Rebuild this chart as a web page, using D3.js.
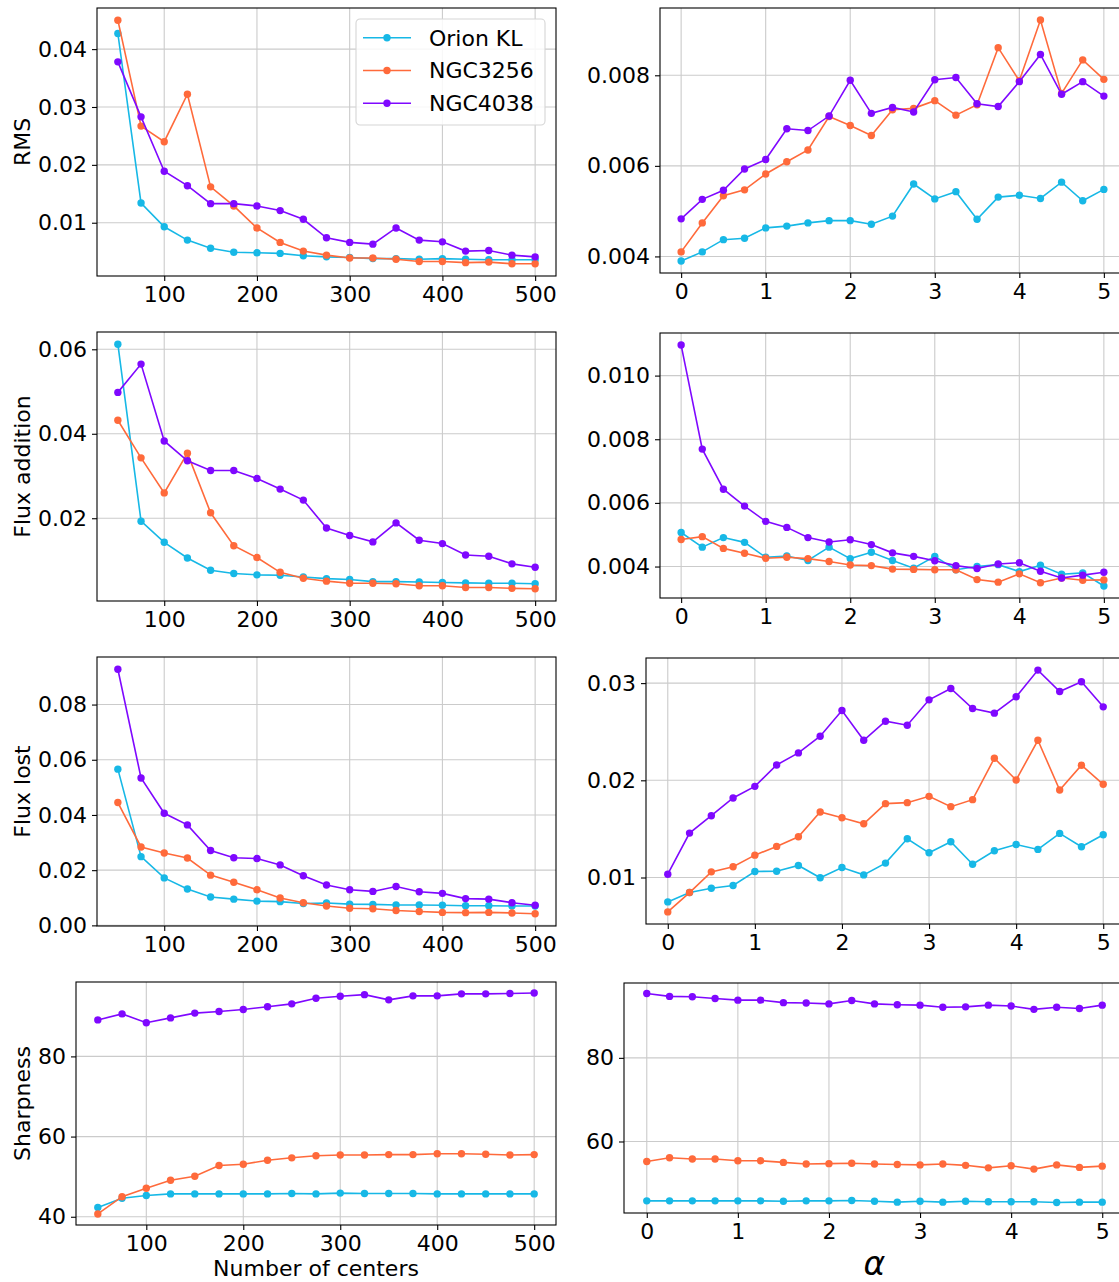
<!DOCTYPE html>
<html>
<head>
<meta charset="utf-8">
<script src="https://cdn.jsdelivr.net/npm/d3@7"></script>
<style>
    body { margin: 0; background: #fff; }
    svg { display: block; font-family: "DejaVu Sans", sans-serif; }
</style>
</head>
<body>
<div id="chart"></div>
<script>
// x values
const centers = [50, 75, 100, 125, 150, 175, 200, 225, 250, 275, 300, 325, 350, 375, 400, 425, 450, 475, 500];
const alphas = [0, 0.25, 0.5, 0.75, 1, 1.25, 1.5, 1.75, 2, 2.25, 2.5, 2.75, 3, 3.25, 3.5, 3.75, 4, 4.25, 4.5, 4.75, 5];

const seriesNames = ["Orion KL", "NGC3256", "NGC4038"];

// RMS
const rmsCenters = [
    [0.0427, 0.0134, 0.0093, 0.0070, 0.0056, 0.0049, 0.0048, 0.0047, 0.0043, 0.0041, 0.0040, 0.0038, 0.0038, 0.0037, 0.0038, 0.0037, 0.0036, 0.0036, 0.0036],
    [0.0450, 0.0267, 0.0240, 0.0322, 0.0162, 0.0129, 0.0091, 0.0066, 0.0051, 0.0044, 0.0039, 0.0039, 0.0037, 0.0033, 0.0033, 0.0031, 0.0032, 0.0029, 0.0029],
    [0.0378, 0.0283, 0.0189, 0.0164, 0.0133, 0.0133, 0.0129, 0.0121, 0.0106, 0.0074, 0.0066, 0.0063, 0.0091, 0.0070, 0.0067, 0.0051, 0.0052, 0.0044, 0.0041]
];
const rmsAlpha = [
    [0.00390, 0.00410, 0.00437, 0.00440, 0.00463, 0.00467, 0.00474, 0.00479, 0.00479, 0.00471, 0.00489, 0.00560, 0.00527, 0.00543, 0.00482, 0.00531, 0.00535, 0.00528, 0.00564, 0.00523, 0.00548],
    [0.00410, 0.00474, 0.00534, 0.00547, 0.00582, 0.00609, 0.00635, 0.00709, 0.00689, 0.00667, 0.00724, 0.00727, 0.00744, 0.00712, 0.00735, 0.00861, 0.00788, 0.00922, 0.00760, 0.00834, 0.00791],
    [0.00483, 0.00526, 0.00546, 0.00593, 0.00614, 0.00682, 0.00678, 0.00710, 0.00789, 0.00716, 0.00729, 0.00719, 0.00790, 0.00795, 0.00737, 0.00731, 0.00786, 0.00846, 0.00758, 0.00786, 0.00754]
];

// Flux addition
const fluxAddCenters = [
    [0.0612, 0.0193, 0.0143, 0.0106, 0.0077, 0.0069, 0.0066, 0.0065, 0.0061, 0.0057, 0.0055, 0.0050, 0.0050, 0.0049, 0.0048, 0.0047, 0.0046, 0.0046, 0.0045],
    [0.0432, 0.0343, 0.0260, 0.0354, 0.0213, 0.0135, 0.0107, 0.0072, 0.0058, 0.0051, 0.0046, 0.0046, 0.0045, 0.0040, 0.0040, 0.0036, 0.0036, 0.0034, 0.0033],
    [0.0498, 0.0565, 0.0383, 0.0336, 0.0313, 0.0313, 0.0294, 0.0269, 0.0243, 0.0177, 0.0159, 0.0144, 0.0189, 0.0148, 0.0140, 0.0113, 0.0110, 0.0092, 0.0084]
];
const fluxAddAlpha = [
    [0.00507, 0.00461, 0.00491, 0.00476, 0.00429, 0.00433, 0.00419, 0.00461, 0.00425, 0.00445, 0.00419, 0.00395, 0.00432, 0.00390, 0.00400, 0.00406, 0.00384, 0.00404, 0.00376, 0.00380, 0.00339],
    [0.00485, 0.00494, 0.00457, 0.00442, 0.00426, 0.00429, 0.00425, 0.00416, 0.00405, 0.00403, 0.00392, 0.00391, 0.00390, 0.00390, 0.00359, 0.00351, 0.00377, 0.00349, 0.00364, 0.00357, 0.00358],
    [0.01096, 0.00769, 0.00643, 0.00590, 0.00542, 0.00523, 0.00491, 0.00477, 0.00484, 0.00469, 0.00443, 0.00432, 0.00418, 0.00403, 0.00394, 0.00408, 0.00412, 0.00385, 0.00364, 0.00373, 0.00382]
];

// Flux lost
const fluxLostCenters = [
    [0.0566, 0.0249, 0.0172, 0.0132, 0.0103, 0.0095, 0.0088, 0.0086, 0.0079, 0.0081, 0.0077, 0.0076, 0.0074, 0.0074, 0.0073, 0.0071, 0.0071, 0.0070, 0.0070],
    [0.0445, 0.0284, 0.0262, 0.0244, 0.0182, 0.0156, 0.0129, 0.0099, 0.0082, 0.0070, 0.0062, 0.0060, 0.0054, 0.0050, 0.0047, 0.0046, 0.0047, 0.0045, 0.0042],
    [0.0928, 0.0534, 0.0406, 0.0364, 0.0271, 0.0245, 0.0242, 0.0219, 0.0180, 0.0146, 0.0129, 0.0123, 0.0141, 0.0122, 0.0116, 0.0097, 0.0095, 0.0082, 0.0073]
];
const fluxLostAlpha = [
    [0.00749, 0.00845, 0.00890, 0.00918, 0.01062, 0.01065, 0.01124, 0.00997, 0.01103, 0.01027, 0.01148, 0.01399, 0.01254, 0.01368, 0.01137, 0.01275, 0.01340, 0.01289, 0.01454, 0.01316, 0.01440],
    [0.00646, 0.00845, 0.01058, 0.01110, 0.01230, 0.01320, 0.01419, 0.01674, 0.01615, 0.01553, 0.01760, 0.01770, 0.01835, 0.01729, 0.01801, 0.02227, 0.02003, 0.02412, 0.01900, 0.02155, 0.01959],
    [0.01034, 0.01457, 0.01636, 0.01818, 0.01938, 0.02158, 0.02282, 0.02454, 0.02718, 0.02412, 0.02608, 0.02567, 0.02828, 0.02945, 0.02739, 0.02691, 0.02859, 0.03134, 0.02914, 0.03014, 0.02756]
];

// Sharpness
const sharpCenters = [
    [42.3, 44.6, 45.3, 45.7, 45.7, 45.7, 45.7, 45.7, 45.8, 45.7, 45.9, 45.8, 45.8, 45.8, 45.7, 45.7, 45.7, 45.7, 45.7],
    [40.7, 45.0, 47.1, 49.1, 50.1, 52.8, 53.1, 54.1, 54.7, 55.2, 55.4, 55.4, 55.5, 55.5, 55.7, 55.7, 55.6, 55.4, 55.5],
    [89.1, 90.6, 88.4, 89.6, 90.8, 91.2, 91.7, 92.4, 93.1, 94.5, 95.0, 95.4, 94.1, 95.1, 95.1, 95.6, 95.6, 95.7, 95.8]
];
const sharpAlpha = [
    [45.8, 45.8, 45.8, 45.8, 45.8, 45.8, 45.7, 45.8, 45.8, 45.9, 45.7, 45.5, 45.7, 45.5, 45.7, 45.6, 45.6, 45.6, 45.4, 45.5, 45.5],
    [55.2, 56.1, 55.8, 55.8, 55.4, 55.4, 55.0, 54.6, 54.7, 54.8, 54.6, 54.5, 54.4, 54.6, 54.3, 53.7, 54.2, 53.4, 54.4, 53.8, 54.1],
    [95.4, 94.7, 94.6, 94.2, 93.8, 93.8, 93.2, 93.1, 92.9, 93.7, 92.9, 92.7, 92.6, 92.1, 92.2, 92.6, 92.4, 91.6, 92.1, 91.8, 92.6]
];

// tick values
const centerTicks = [100, 200, 300, 400, 500];
const alphaTicks = [0, 1, 2, 3, 4, 5];
const rmsCenterTicks = [0.01, 0.02, 0.03, 0.04];
const rmsAlphaTicks = [0.004, 0.006, 0.008];
const fluxAddCenterTicks = [0.02, 0.04, 0.06];
const fluxAddAlphaTicks = [0.004, 0.006, 0.008, 0.010];
const fluxLostCenterTicks = [0.00, 0.02, 0.04, 0.06, 0.08];
const fluxLostAlphaTicks = [0.01, 0.02, 0.03];
const sharpCenterTicks = [40, 60, 80];
const sharpAlphaTicks = [60, 80];

const colors = ["#17b8e6", "#ff6a3b", "#7f08ff"];

const width = 1119, height = 1282;
const fontSize = 22;

// panel boxes (matplotlib tight layout)
const panels = [
    {x: centers, ys: rmsCenters, xTicks: centerTicks, yTicks: rmsCenterTicks, fmt: ".2f", box: [97, 8, 556, 276], ylabel: "RMS", legend: true},
    {x: alphas, ys: rmsAlpha, xTicks: alphaTicks, yTicks: rmsAlphaTicks, fmt: ".3f", box: [660, 8, 1125, 273]},
    {x: centers, ys: fluxAddCenters, xTicks: centerTicks, yTicks: fluxAddCenterTicks, fmt: ".2f", box: [97, 332, 556, 601], ylabel: "Flux addition"},
    {x: alphas, ys: fluxAddAlpha, xTicks: alphaTicks, yTicks: fluxAddAlphaTicks, fmt: ".3f", box: [660, 333, 1125, 598]},
    {x: centers, ys: fluxLostCenters, xTicks: centerTicks, yTicks: fluxLostCenterTicks, fmt: ".2f", box: [97, 657, 556, 926], ylabel: "Flux lost"},
    {x: alphas, ys: fluxLostAlpha, xTicks: alphaTicks, yTicks: fluxLostAlphaTicks, fmt: ".2f", box: [646, 658, 1125, 924]},
    {x: centers, ys: sharpCenters, xTicks: centerTicks, yTicks: sharpCenterTicks, fmt: "d", box: [76, 982, 556, 1225], ylabel: "Sharpness", xlabel: "Number of centers"},
    {x: alphas, ys: sharpAlpha, xTicks: alphaTicks, yTicks: sharpAlphaTicks, fmt: "d", box: [624, 983, 1125, 1213], xlabel: "\u03b1", italic: true}
];

function padded(ext) {
    let d = (ext[1] - ext[0]) * 0.05;
    return [ext[0] - d, ext[1] + d];
}

const svg = d3.select("#chart")
    .append("svg")
    .attr("width", width)
    .attr("height", height);

panels.forEach(function (p, i) {
    let [x0, y0, x1, y1] = p.box;
    let w = x1 - x0, h = y1 - y0;

    let xScale = d3.scaleLinear().domain(padded(d3.extent(p.x))).range([0, w]);
    let yScale = d3.scaleLinear().domain(padded(d3.extent(p.ys.flat()))).range([h, 0]);

    let g = svg.append("g").attr("transform", "translate(" + x0 + "," + y0 + ")");

    g.append("clipPath").attr("id", "clip" + i)
        .append("rect").attr("width", w).attr("height", h);

    // grid
    g.append("g").attr("class", "grid")
        .selectAll("line.gx").data(p.xTicks).enter()
        .append("line")
        .attr("x1", d => xScale(d)).attr("x2", d => xScale(d))
        .attr("y1", 0).attr("y2", h);
    g.append("g").attr("class", "grid")
        .selectAll("line.gy").data(p.yTicks).enter()
        .append("line")
        .attr("x1", 0).attr("x2", w)
        .attr("y1", d => yScale(d)).attr("y2", d => yScale(d));
    g.selectAll(".grid line")
        .attr("stroke", "#cbcbcb")
        .attr("stroke-width", 1.1);

    // lines + markers
    let line = d3.line()
        .x((d, j) => xScale(p.x[j]))
        .y(d => yScale(d));

    let plot = g.append("g").attr("clip-path", "url(#clip" + i + ")");
    p.ys.forEach(function (vals, k) {
        let s = plot.append("g");
        s.append("path")
            .datum(vals)
            .attr("d", line)
            .attr("fill", "none")
            .attr("stroke", colors[k])
            .attr("stroke-width", 1.6);
        s.selectAll("circle")
            .data(vals)
            .enter()
            .append("circle")
            .attr("cx", (d, j) => xScale(p.x[j]))
            .attr("cy", d => yScale(d))
            .attr("r", 3.7)
            .attr("fill", colors[k]);
    });

    // axes
    let xAxis = g.append("g")
        .attr("transform", "translate(0," + h + ")")
        .call(d3.axisBottom(xScale).tickValues(p.xTicks).tickSize(5).tickPadding(5).tickFormat(d3.format("d")));
    let yAxis = g.append("g")
        .call(d3.axisLeft(yScale).tickValues(p.yTicks).tickSize(5).tickPadding(5).tickFormat(d3.format(p.fmt)));

    [xAxis, yAxis].forEach(function (a) {
        a.select(".domain").remove();
        a.selectAll("line").attr("stroke", "#000").attr("stroke-width", 1.1);
        a.selectAll("text")
            .attr("fill", "#000")
            .style("font-family", "DejaVu Sans")
            .style("font-size", fontSize + "px");
    });

    g.append("rect")
        .attr("width", w)
        .attr("height", h)
        .attr("fill", "none")
        .attr("stroke", "#000")
        .attr("stroke-width", 1.1);

    if (p.ylabel) {
        svg.append("text")
            .attr("transform", "translate(22," + (y0 + h / 2) + ") rotate(-90)")
            .attr("text-anchor", "middle")
            .attr("dominant-baseline", "central")
            .style("font-size", fontSize + "px")
            .text(p.ylabel);
    }

    if (p.xlabel) {
        let t = svg.append("text")
            .attr("x", x0 + w / 2)
            .attr("text-anchor", "middle")
            .text(p.xlabel);
        if (p.italic) {
            t.attr("y", y1 + 62)
                .style("font-style", "italic")
                .style("font-size", "33px");
        } else {
            t.attr("y", y1 + 51)
                .style("font-size", fontSize + "px");
        }
    }

    if (p.legend) {
        let lg = svg.append("g").attr("transform", "translate(356,19)");
        lg.append("rect")
            .attr("width", 189)
            .attr("height", 106)
            .attr("rx", 4)
            .attr("fill", "#fff")
            .attr("fill-opacity", 0.85)
            .attr("stroke", "#d6d6d6")
            .attr("stroke-width", 1.1);
        let rows = lg.selectAll("g.row")
            .data(seriesNames)
            .enter()
            .append("g")
            .attr("transform", (d, k) => "translate(0," + (18.7 + k * 32.8) + ")");
        rows.append("line")
            .attr("x1", 7).attr("x2", 55)
            .attr("stroke", (d, k) => colors[k])
            .attr("stroke-width", 1.6);
        rows.append("circle")
            .attr("cx", 31)
            .attr("r", 3.7)
            .attr("fill", (d, k) => colors[k]);
        rows.append("text")
            .attr("x", 73)
            .attr("dy", "0.36em")
            .style("font-size", fontSize + "px")
            .text(d => d);
    }
});
</script>
</body>
</html>
